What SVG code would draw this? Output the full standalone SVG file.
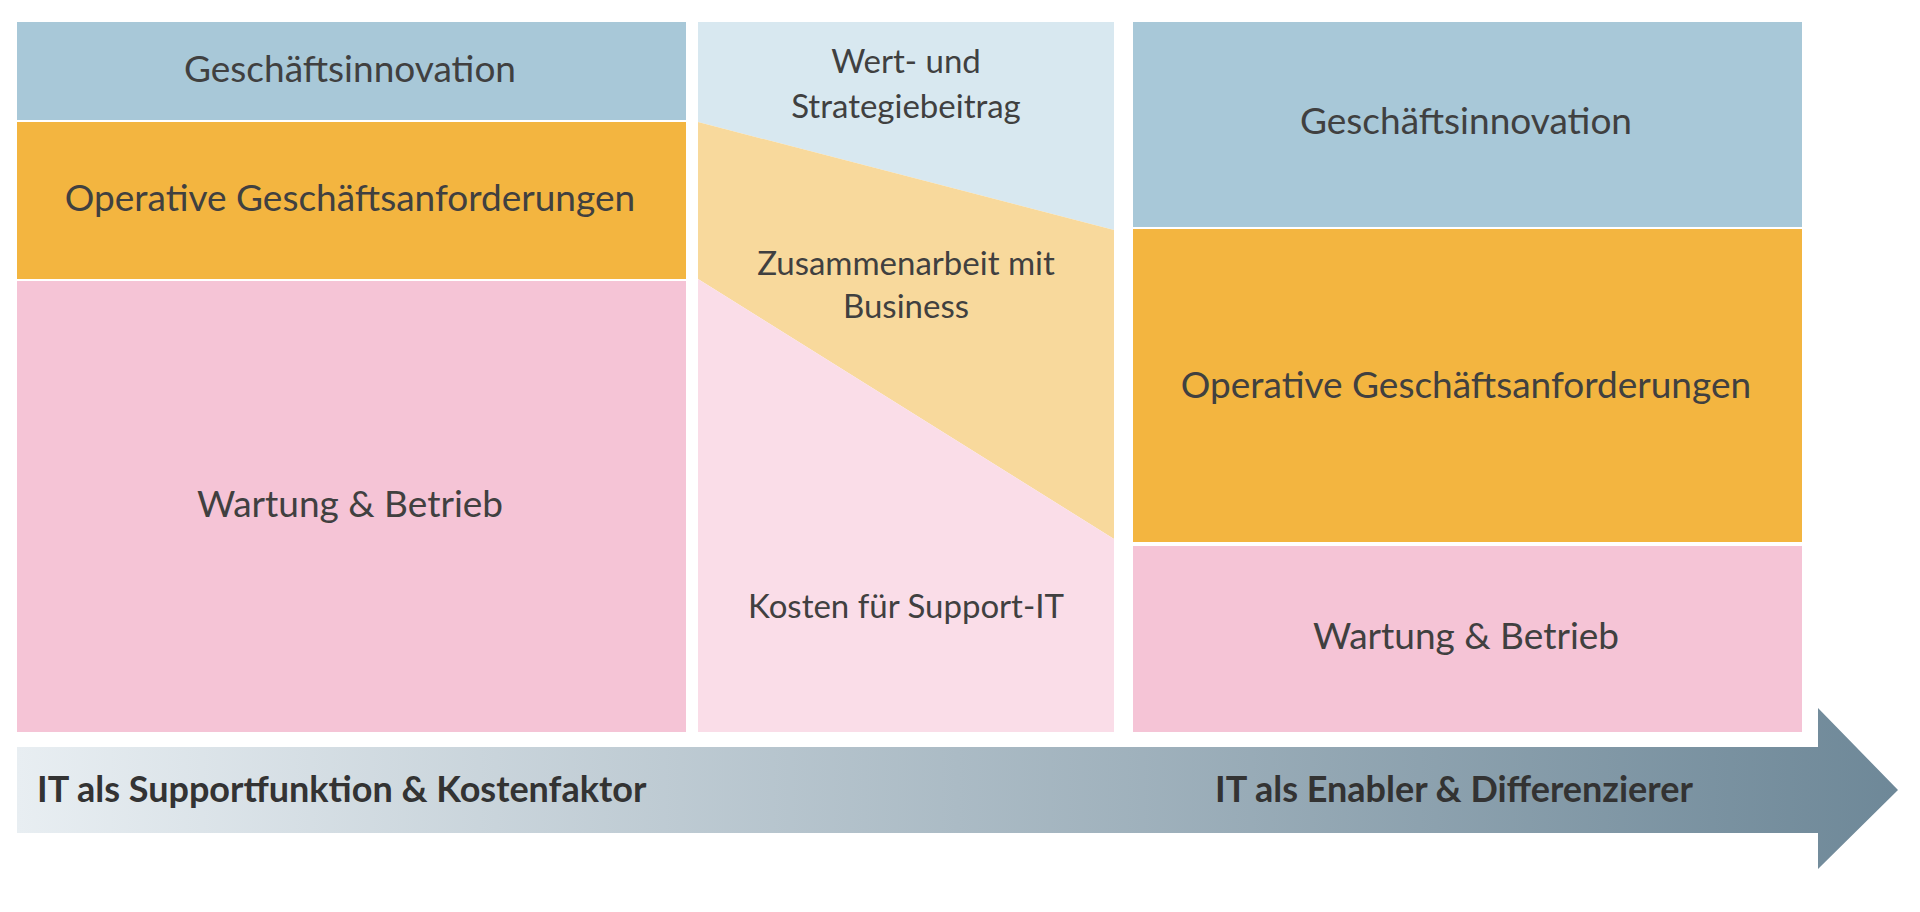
<svg xmlns="http://www.w3.org/2000/svg" width="1920" height="912" viewBox="0 0 1920 912">
<defs>
<style>
text{font-family:Lato,"Open Sans","Liberation Sans",sans-serif;fill:#404040;text-anchor:middle;dominant-baseline:middle}
.t{font-size:37px}
.m{font-size:33px}
.a{font-size:36px;font-weight:bold;text-anchor:start;fill:#333}
</style>
<linearGradient id="g" x1="0" y1="0" x2="1" y2="0">
<stop offset="0" stop-color="#e8eef2"/>
<stop offset="1" stop-color="#6e8898"/>
</linearGradient>
</defs>
<rect width="1920" height="912" fill="#fff"/>
<g id="left">
<rect x="17" y="22" width="669" height="98" fill="#a8c8d8"/>
<rect x="17" y="122" width="669" height="157" fill="#f3b540"/>
<rect x="17" y="281" width="669" height="451" fill="#f5c4d6"/>
<text class="t" x="350" y="73">Geschäftsinnovation</text>
<text class="t" x="350" y="202">Operative Geschäftsanforderungen</text>
<text class="t" x="350" y="508">Wartung &amp; Betrieb</text>
</g>
<g id="middle">
<polygon points="698,22 1114,22 1114,230 698,122" fill="#d8e8f0"/>
<polygon points="698,122 1114,230 1114,539 698,279" fill="#f8d99c"/>
<polygon points="698,279 1114,539 1114,732 698,732" fill="#fadde8"/>
<text class="m" x="906" y="65">Wert- und</text>
<text class="m" x="906" y="110">Strategiebeitrag</text>
<text class="m" x="906" y="267">Zusammenarbeit mit</text>
<text class="m" x="906" y="310">Business</text>
<text class="m" x="906" y="610">Kosten für Support-IT</text>
</g>
<g id="right">
<rect x="1133" y="22" width="669" height="205" fill="#a8c8d8"/>
<rect x="1133" y="229" width="669" height="313" fill="#f3b540"/>
<rect x="1133" y="546" width="669" height="186" fill="#f5c4d6"/>
<text class="t" x="1466" y="125">Geschäftsinnovation</text>
<text class="t" x="1466" y="389">Operative Geschäftsanforderungen</text>
<text class="t" x="1466" y="640">Wartung &amp; Betrieb</text>
</g>
<g id="connectors">
<polygon points="17,747 1818,747 1818,708 1898,790 1818,869 1818,833 17,833" fill="url(#g)"/>
<text class="a" x="37" y="793">IT als Supportfunktion &amp; Kostenfaktor</text>
<text class="a" x="1215" y="793">IT als Enabler &amp; Differenzierer</text>
</g>
</svg>
